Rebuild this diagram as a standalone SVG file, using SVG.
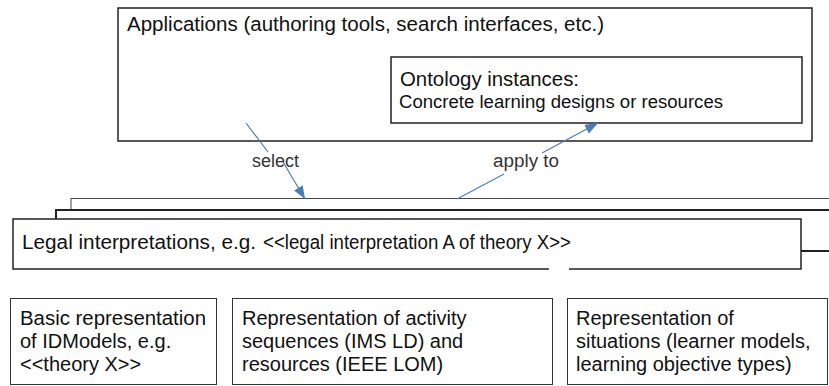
<svg xmlns="http://www.w3.org/2000/svg" width="829" height="386" viewBox="0 0 829 386">
<defs>
<style>
.box{fill:#fff;stroke:#222;stroke-width:1.5}
.thin{fill:#fff;stroke:#333;stroke-width:1}
.t{font-family:"Liberation Sans",Arial,sans-serif;font-size:20px;fill:#111}
.lbl{font-family:"Liberation Sans",Arial,sans-serif;font-size:18px;fill:#333}
.conn{fill:none;stroke:#4a7ebb;stroke-width:1.2}
</style>
<marker id="arr" markerUnits="userSpaceOnUse" markerWidth="14" markerHeight="10" refX="13" refY="5" orient="auto">
<path d="M0,0 L13,5 L0,10 z" fill="#4a7ebb"/>
</marker>
</defs>
<rect width="829" height="386" fill="#fff"/>

<g id="applications">
<rect class="box" x="118" y="8" width="694" height="133"/>
<text class="t" x="127" y="31" textLength="477" lengthAdjust="spacingAndGlyphs">Applications (authoring tools, search interfaces, etc.)</text>
</g>

<g id="ontology-instances">
<rect class="box" x="391" y="57" width="411" height="66"/>
<text class="t" x="400" y="86" textLength="179" lengthAdjust="spacingAndGlyphs">Ontology instances:</text>
<text class="t" x="399" y="108" style="font-size:18px" textLength="324" lengthAdjust="spacingAndGlyphs">Concrete learning designs or resources</text>
</g>

<g id="layer-back">
<rect x="71" y="198.5" width="780" height="40" fill="#fff" stroke="#444" stroke-width="1"/>
</g>
<g id="layer-middle">
<rect x="56" y="210" width="790" height="41" fill="#fff" stroke="#222" stroke-width="2"/>
</g>
<g id="legal-interpretations">
<rect class="box" x="13" y="219" width="788" height="50"/>
<rect x="549" y="265" width="20" height="6" fill="#fff"/>
<text class="t" y="249"><tspan x="22" textLength="234" lengthAdjust="spacingAndGlyphs">Legal interpretations, e.g.</tspan><tspan x="263" textLength="308" lengthAdjust="spacingAndGlyphs">&lt;&lt;legal interpretation A of theory X&gt;&gt;</tspan></text>
</g>

<g id="basic-representation">
<rect class="thin" x="10.5" y="298.5" width="206" height="86"/>
<text class="t" x="20" y="325" textLength="186" lengthAdjust="spacingAndGlyphs">Basic representation</text>
<text class="t" x="20" y="348">of IDModels, e.g.</text>
<text class="t" x="20" y="371">&lt;&lt;theory X&gt;&gt;</text>
</g>

<g id="activity-representation">
<rect class="thin" x="232.5" y="298.5" width="320" height="86"/>
<text class="t" x="242" y="325">Representation of activity</text>
<text class="t" x="242" y="348">sequences (IMS LD) and</text>
<text class="t" x="242" y="371">resources (IEEE LOM)</text>
</g>

<g id="situations-representation">
<rect class="thin" x="567.5" y="298.5" width="260" height="86"/>
<text class="t" x="576" y="325">Representation of</text>
<text class="t" x="576" y="348">situations (learner models,</text>
<text class="t" x="576" y="371">learning objective types)</text>
</g>

<g id="connectors">
<path class="conn" d="M246,123 L268,152 M283,162 L305,199" marker-end="url(#arr)"/>
<text class="lbl" x="252" y="167" textLength="47" lengthAdjust="spacingAndGlyphs">select</text>
<path class="conn" d="M457,199 L504,174 M542,153 L598,123" marker-end="url(#arr)"/>
<text class="lbl" x="493" y="167" textLength="66" lengthAdjust="spacingAndGlyphs">apply to</text>
</g>
</svg>
